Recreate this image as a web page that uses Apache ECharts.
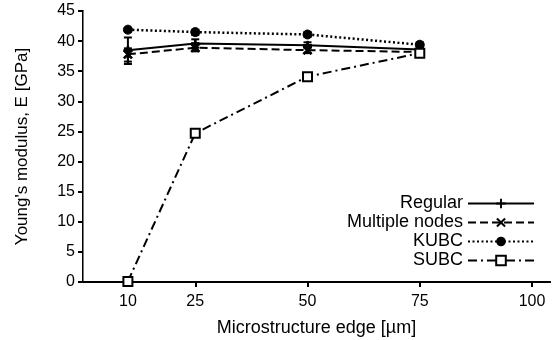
<!DOCTYPE html>
<html>
<head>
<meta charset="utf-8">
<script src="https://cdn.jsdelivr.net/npm/echarts@6/dist/echarts.min.js"></script>
<style>
  html, body { margin: 0; padding: 0; background: #fff; }
  #chart { width: 555px; height: 340px; }
</style>
</head>
<body>
<div id="chart"></div>
<script>
const edges = [10, 25, 50, 75]
const xTicks = [10, 25, 50, 75, 100]

const regular = [38.5, 39.6, 39.3, 38.6]
const regularLow = [36.6, 38.9, 38.8, 38.0]
const regularHigh = [40.6, 40.3, 39.8, 39.0]

const multiNodes = [37.8, 38.9, 38.5, 38.2]
const multiLow = [36.2, 38.3, 38.0, 37.7]
const multiHigh = [38.8, 39.4, 39.0, 38.7]

const kubc = [41.9, 41.5, 41.1, 39.4]
const kubcLow = [41.5, 41.0, 40.7, 39.0]
const kubcHigh = [42.2, 41.9, 41.5, 39.8]

const subc = [0.1, 24.7, 34.1, 38.0]
const subcLow = [0, 24.4, 33.8, 37.7]
const subcHigh = [0.4, 25.0, 34.4, 38.3]

const FONT = 'Liberation Sans'
const BLACK = '#000'

const pairs = (ys) => edges.map((x, i) => [x, ys[i]])
const errData = (lo, hi) => edges.map((x, i) => [x, lo[i], hi[i]])

// vertical whisker with small caps
const renderErr = (params, api) => {
  const x = api.value(0)
  const lo = api.coord([x, api.value(1)])
  const hi = api.coord([x, api.value(2)])
  const w = 4
  const style = { stroke: BLACK, lineWidth: 2 }
  return {
    type: 'group',
    children: [
      { type: 'line', shape: { x1: lo[0], y1: lo[1], x2: hi[0], y2: hi[1] }, style },
      { type: 'line', shape: { x1: lo[0] - w, y1: lo[1], x2: lo[0] + w, y2: lo[1] }, style },
      { type: 'line', shape: { x1: hi[0] - w, y1: hi[1], x2: hi[0] + w, y2: hi[1] }, style },
    ],
  }
}

const errSeries = (name, lo, hi) => ({
  name,
  type: 'custom',
  renderItem: renderErr,
  data: errData(lo, hi),
  z: 3,
  silent: true,
})

const lineSeries = (name, data, lineType, symbol, symbolSize, itemStyle, width) => ({
  name,
  type: 'line',
  data: pairs(data),
  symbol,
  symbolSize,
  lineStyle: { color: BLACK, width: width || 2, type: lineType },
  itemStyle: Object.assign({ color: BLACK, borderColor: BLACK }, itemStyle),
  z: 4,
})

const chart = echarts.init(document.getElementById('chart'), null, { renderer: 'canvas' })

chart.setOption({
  animation: false,
  textStyle: { fontFamily: FONT, color: BLACK },
  grid: { left: 83, right: 5, top: 11, bottom: 58, outerBoundsMode: 'none' },
  legend: {
    data: ['Regular', 'Multiple nodes', 'KUBC', 'SUBC'],
    orient: 'vertical',
    right: 20,
    top: 194,
    align: 'right',
    padding: 0,
    itemWidth: 66,
    itemHeight: 12,
    itemGap: 0,
    textStyle: { fontFamily: FONT, fontSize: 18, lineHeight: 19, color: BLACK, padding: [0, 0, 0, 0] },
  },
  xAxis: [
    {
      type: 'value',
      min: 0,
      max: 104,
      name: 'Microstructure edge [µm]',
      nameLocation: 'middle',
      nameGap: 37,
      nameTextStyle: { fontFamily: FONT, fontSize: 18, color: BLACK },
      axisLine: { onZero: false, lineStyle: { color: BLACK, width: 2 } },
      axisTick: { show: true, customValues: xTicks, length: 5, lineStyle: { color: BLACK, width: 2 } },
      axisLabel: { customValues: xTicks, fontFamily: FONT, fontSize: 16, color: BLACK, margin: 12 },
      splitLine: { show: false },
    },
    {
      type: 'value',
      position: 'top',
      min: 0,
      max: 104,
      axisLine: { show: true, lineStyle: { color: BLACK, width: 2 } },
      axisTick: { show: false },
      axisLabel: { show: false },
      splitLine: { show: false },
    },
  ],
  yAxis: [
    {
      type: 'value',
      min: 0,
      max: 45,
      interval: 5,
      name: "Young's modulus, E [GPa]",
      nameLocation: 'middle',
      nameGap: 52,
      nameTextStyle: { fontFamily: FONT, fontSize: 17, color: BLACK },
      axisLine: { show: true, lineStyle: { color: BLACK, width: 2 } },
      axisTick: { show: true, length: 5, lineStyle: { color: BLACK, width: 2 } },
      axisLabel: { fontFamily: FONT, fontSize: 16, color: BLACK, margin: 8 },
      splitLine: { show: false },
    },
    {
      type: 'value',
      position: 'right',
      min: 0,
      max: 45,
      interval: 5,
      axisLine: { show: true, lineStyle: { color: '#777', width: 1 } },
      axisTick: { show: false },
      axisLabel: { show: false },
      splitLine: { show: false },
    },
  ],
  series: [
    errSeries('err-regular', regularLow, regularHigh),
    errSeries('err-multi', multiLow, multiHigh),
    errSeries('err-kubc', kubcLow, kubcHigh),
    errSeries('err-subc', subcLow, subcHigh),
    lineSeries('Regular', regular, 'solid', 'path://M4,0H6V10H4ZM0,4H10V6H0Z', 8, {}),
    lineSeries('Multiple nodes', multiNodes, [8, 4], 'path://M0,1.5L1.5,0L5,3.5L8.5,0L10,1.5L6.5,5L10,8.5L8.5,10L5,6.5L1.5,10L0,8.5L3.5,5Z', 9, {}),
    lineSeries('KUBC', kubc, [2, 2.5], 'circle', 9, {}, 2.5),
    lineSeries('SUBC', subc, [9, 4, 2, 4], 'rect', 9, { color: '#fff', borderWidth: 2 }),
  ],
})
</script>
</body>
</html>
